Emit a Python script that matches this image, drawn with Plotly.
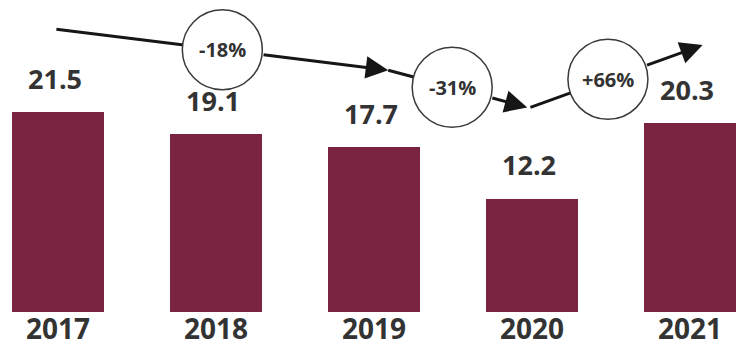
import math
import plotly.graph_objects as go

# ---- data -------------------------------------------------------------
years = ["2017", "2018", "2019", "2020", "2021"]
values = [21.5, 19.1, 17.7, 12.2, 20.3]
# pairs of years compared by the change arrows (index from, index to)
change_pairs = [(0, 2), (2, 3), (3, 4)]

# ---- layout constants -------------------------------------------------
W, H = 737, 353
MARGIN_B = 41
PX_PER_X = 158.0          # pixels per category step
PX_PER_Y = 9.3            # pixels per value unit
X0_PX = 58.0              # pixel centre of first category
X_RANGE = [-X0_PX / PX_PER_X, (W - X0_PX) / PX_PER_X]
Y_RANGE = [0, (H - MARGIN_B) / PX_PER_Y]

BAR_COLOR = "#7b2442"
TEXT_COLOR = "#333333"
ARROW_COLOR = "#161616"
CIRCLE_R = 40             # px

# arrow tail / tip in (category index, value) units, and where the
# badge circle sits along each arrow
arrow_paths = [((-0.01, 30.4), (2.09, 26.0)),
               ((2.09, 26.0), (2.97, 22.0)),
               ((2.99, 22.0), (4.08, 28.7))]
badge_pos = [0.5, 0.46, 0.45]

fig = go.Figure()
fig.add_trace(go.Bar(
    x=list(range(len(years))), y=values,
    marker=dict(color=BAR_COLOR, line=dict(width=0)),
    width=92 / PX_PER_X, hoverinfo="skip",
))

shapes, annotations = [], []

# year labels under the bars
for i, yr in enumerate(years):
    annotations.append(dict(
        x=i, y=0, xref="x", yref="y", text=yr, showarrow=False,
        yanchor="middle", yshift=-16,
        font=dict(family="Open Sans", size=28, weight=700, color=TEXT_COLOR),
    ))

# value labels above the bars
for i, v in enumerate(values):
    annotations.append(dict(
        x=i, y=v, xref="x", yref="y", text=f"{v:.1f}", showarrow=False,
        yanchor="middle", yshift=34, xshift=-3,
        font=dict(family="Open Sans", size=27, weight=700, color=TEXT_COLOR),
    ))

# change arrows with percentage badges
for (a, b), ((tx, ty), (hx, hy)), t in zip(change_pairs, arrow_paths, badge_pos):
    pct = round((values[b] / values[a] - 1) * 100)
    label = f"{pct:+d}%" if pct > 0 else f"{pct:d}%"
    cx, cy = tx + t * (hx - tx), ty + t * (hy - ty)
    # direction in pixel space, to find where the arrow leaves the circle
    dxp, dyp = (hx - cx) * PX_PER_X, (hy - cy) * PX_PER_Y
    d = math.hypot(dxp, dyp)
    ex = cx + (dxp / d) * CIRCLE_R / PX_PER_X
    ey = cy + (dyp / d) * CIRCLE_R / PX_PER_Y
    shapes.append(dict(type="line", xref="x", yref="y", x0=tx, y0=ty, x1=cx, y1=cy,
                       line=dict(color=ARROW_COLOR, width=3)))
    annotations.append(dict(
        x=hx, y=hy, xref="x", yref="y", ax=ex, ay=ey, axref="x", ayref="y",
        text="", showarrow=True, arrowhead=2, arrowsize=1.5, arrowwidth=3,
        arrowcolor=ARROW_COLOR, standoff=0, startstandoff=0,
    ))
    shapes.append(dict(type="circle", xref="x", yref="y",
                       xsizemode="pixel", ysizemode="pixel",
                       xanchor=cx, yanchor=cy,
                       x0=-CIRCLE_R, x1=CIRCLE_R, y0=-CIRCLE_R, y1=CIRCLE_R,
                       fillcolor="white", line=dict(color="#3a3a3a", width=1.5)))
    annotations.append(dict(
        x=cx, y=cy, xref="x", yref="y", text=label, showarrow=False,
        font=dict(family="Open Sans", size=20, weight=700, color=TEXT_COLOR),
    ))

fig.update_layout(
    width=W, height=H,
    margin=dict(l=0, r=0, t=0, b=MARGIN_B, pad=0),
    paper_bgcolor="white", plot_bgcolor="white",
    showlegend=False, bargap=0,
    shapes=shapes, annotations=annotations,
    xaxis=dict(range=X_RANGE, showticklabels=False, showgrid=False,
               zeroline=False, showline=False, ticks=""),
    yaxis=dict(range=Y_RANGE, visible=False, showgrid=False, zeroline=False),
)

fig.write_html("out.html")
